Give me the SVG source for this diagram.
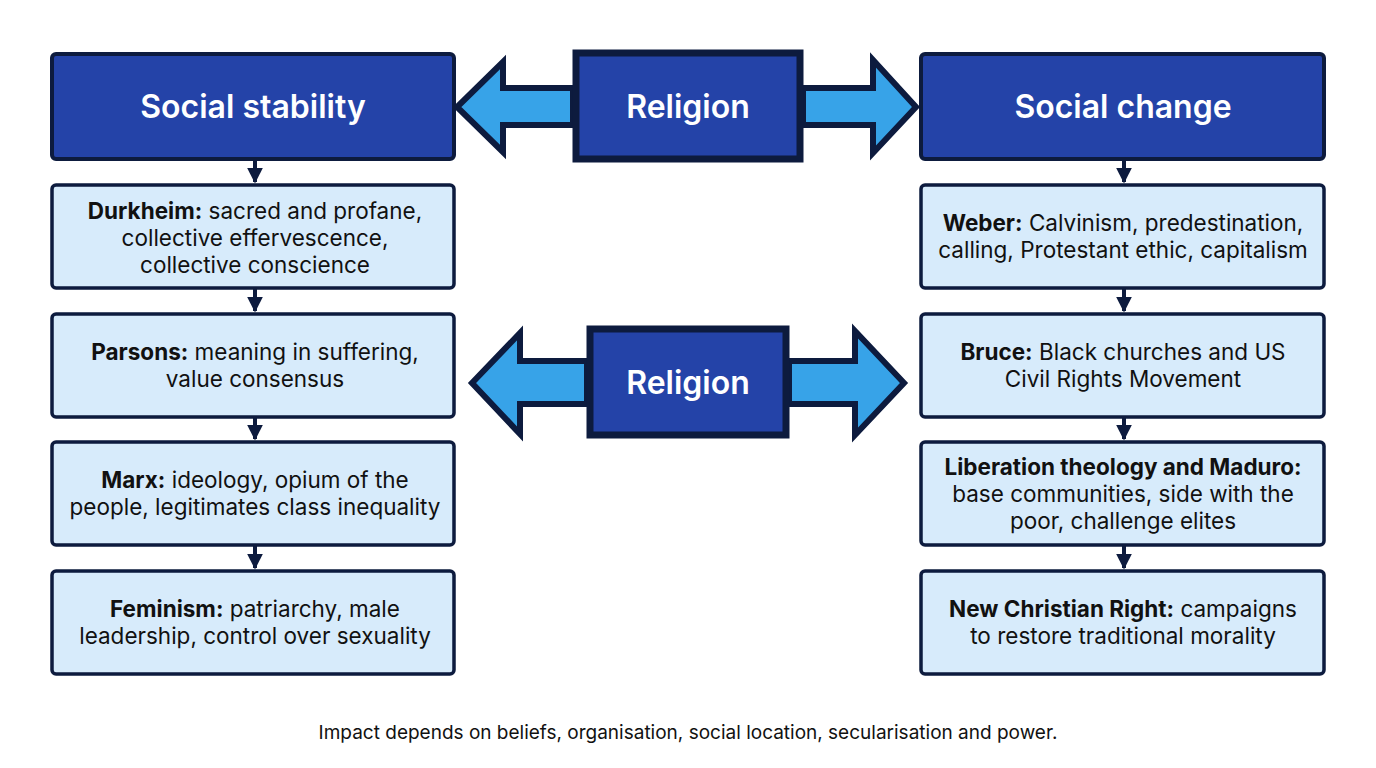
<svg xmlns="http://www.w3.org/2000/svg" width="1376" height="768" viewBox="0 0 1376 768">
<style>
.hd{fill:#2443a8;stroke:#0d1b3e;stroke-width:4}
.bx{fill:#d7ebfb;stroke:#0d1b3e;stroke-width:3.5}
.rb{fill:#2443a8;stroke:#0d1b3e;stroke-width:7}
.ar{fill:#37a3e8;stroke:#0d1b3e;stroke-width:6;stroke-linejoin:miter}
.ht{font-family:Inter,"Noto Sans",sans-serif;font-size:32px;font-weight:600;fill:#fff;text-anchor:middle}
.t{font-family:Inter,"Noto Sans",sans-serif;font-size:22.5px;fill:#111;text-anchor:middle}
.t tspan.b{font-weight:700}
.cn{stroke:#0d1b3e;stroke-width:4;fill:none}
</style>
<defs><marker id="m" viewBox="0 0 10 10" refX="9" refY="5" markerWidth="4" markerHeight="4" orient="auto"><path d="M0,0L10,5L0,10z" fill="#0d1b3e"/></marker></defs>
<rect width="1376" height="768" fill="#fff"/>
<g id="connectors">
<path class="ar" d="M573,88H503V62L457,107L503,152V125H573Z"/>
<path class="ar" d="M803,88H873V60L916,107L873,153V125H803Z"/>
<path class="ar" d="M587,361H520V333L472,383L520,434V404H587Z"/>
<path class="ar" d="M789,361H855V331L904,383L855,435V404H789Z"/>
<g class="cn" marker-end="url(#m)">
<path d="M255,160V182"/><path d="M255,289V311"/><path d="M255,418V439"/><path d="M255,546V568"/>
<path d="M1124,160V182"/><path d="M1124,289V311"/><path d="M1124,418V439"/><path d="M1124,546V568"/>
</g>
</g>
<g id="rel1"><rect class="rb" x="576" y="53" width="224" height="106"/><text class="ht" x="688" y="118">Religion</text></g>
<g id="rel2"><rect class="rb" x="590" y="329" width="196" height="106"/><text class="ht" x="688" y="394">Religion</text></g>
<g id="stab"><rect class="hd" x="52" y="54" width="402" height="105" rx="4"/><text class="ht" x="253" y="118">Social stability</text></g>
<g id="chg"><rect class="hd" x="921" y="54" width="403" height="105" rx="4"/><text class="ht" x="1123" y="118">Social change</text></g>
<g id="durk"><rect class="bx" x="52" y="185" width="402" height="103" rx="4"/><text class="t" x="255" y="219"><tspan class="b">Durkheim:</tspan> sacred and profane,<tspan x="255" dy="27">collective effervescence,</tspan><tspan x="255" dy="27">collective conscience</tspan></text></g>
<g id="pars"><rect class="bx" x="52" y="314" width="402" height="103" rx="4"/><text class="t" x="255" y="360"><tspan class="b">Parsons:</tspan> meaning in suffering,<tspan x="255" dy="27">value consensus</tspan></text></g>
<g id="marx"><rect class="bx" x="52" y="442" width="402" height="103" rx="4"/><text class="t" x="255" y="488"><tspan class="b">Marx:</tspan> ideology, opium of the<tspan x="255" dy="27">people, legitimates class inequality</tspan></text></g>
<g id="fem"><rect class="bx" x="52" y="571" width="402" height="103" rx="4"/><text class="t" x="255" y="617"><tspan class="b">Feminism:</tspan> patriarchy, male<tspan x="255" dy="27">leadership, control over sexuality</tspan></text></g>
<g id="weber"><rect class="bx" x="921" y="185" width="403" height="103" rx="4"/><text class="t" x="1123" y="231"><tspan class="b">Weber:</tspan> Calvinism, predestination,<tspan x="1123" dy="27">calling, Protestant ethic, capitalism</tspan></text></g>
<g id="bruce"><rect class="bx" x="921" y="314" width="403" height="103" rx="4"/><text class="t" x="1123" y="360"><tspan class="b">Bruce:</tspan> Black churches and US<tspan x="1123" dy="27">Civil Rights Movement</tspan></text></g>
<g id="lib"><rect class="bx" x="921" y="442" width="403" height="103" rx="4"/><text class="t" x="1123" y="475"><tspan class="b">Liberation theology and Maduro:</tspan><tspan x="1123" dy="27">base communities, side with the</tspan><tspan x="1123" dy="27">poor, challenge elites</tspan></text></g>
<g id="ncr"><rect class="bx" x="921" y="571" width="403" height="103" rx="4"/><text class="t" x="1123" y="617"><tspan class="b">New Christian Right:</tspan> campaigns<tspan x="1123" dy="27">to restore traditional morality</tspan></text></g>
<text x="688" y="739" style="font-family:Inter,'Noto Sans',sans-serif;font-size:19px;fill:#111;text-anchor:middle">Impact depends on beliefs, organisation, social location, secularisation and power.</text>
</svg>
